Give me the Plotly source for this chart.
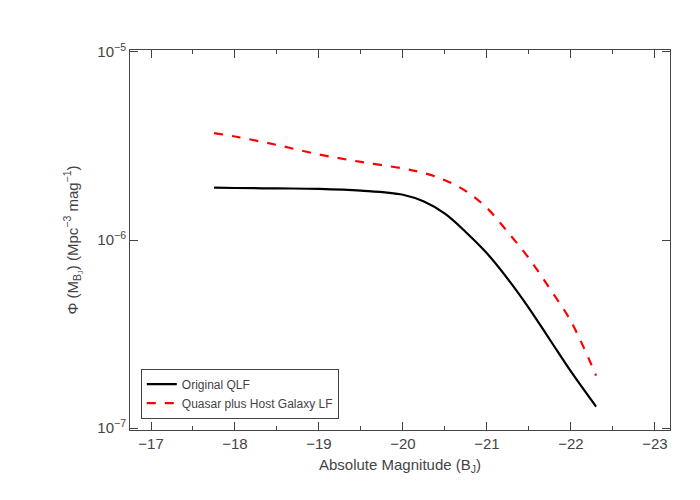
import plotly.graph_objects as go

# absolute magnitude (B_J) and luminosity function values
mag_qlf = [-17.75, -18.0, -18.5, -19.0, -19.5, -20.0, -20.25, -20.5, -20.75, -21.0, -21.25, -21.5, -21.75, -22.0, -22.3]
phi_qlf = [1.9e-6, 1.89e-6, 1.88e-6, 1.87e-6, 1.83e-6, 1.74e-6, 1.6e-6, 1.38e-6, 1.1e-6, 8.5e-7, 6.2e-7, 4.35e-7, 2.95e-7, 2.0e-7, 1.3e-7]

mag_host = [-17.75, -18.0, -18.5, -19.0, -19.5, -20.0, -20.25, -20.5, -20.75, -21.0, -21.25, -21.5, -21.75, -22.0, -22.3]
phi_host = [3.7e-6, 3.55e-6, 3.2e-6, 2.85e-6, 2.6e-6, 2.4e-6, 2.27e-6, 2.08e-6, 1.82e-6, 1.48e-6, 1.1e-6, 8.0e-7, 5.5e-7, 3.7e-7, 1.9e-7]

font = dict(family="Liberation Sans, Arial", size=15, color="#444")

fig = go.Figure()
fig.add_trace(go.Scatter(x=mag_qlf, y=phi_qlf, mode="lines", name="Original QLF",
                         line=dict(color="black", width=2.2, shape="spline")))
fig.add_trace(go.Scatter(x=mag_host, y=phi_host, mode="lines", name="Quasar plus Host Galaxy LF",
                         line=dict(color="red", width=2.2, dash="dash", shape="spline")))

axis_common = dict(showgrid=False, zeroline=False, showline=True, linecolor="#444",
                   mirror="ticks", ticks="inside", tickcolor="#444", tickfont=font)

fig.update_xaxes(range=[-16.75, -23.18], tickvals=[-17, -18, -19, -20, -21, -22, -23],
                 ticktext=["\u221217", "\u221218", "\u221219", "\u221220", "\u221221", "\u221222", "\u221223"],
                 ticklen=8, minor=dict(ticks="inside", ticklen=4, dtick=0.5, tickcolor="#444"),
                 title=dict(text="Absolute Magnitude (B<sub>J</sub>)", font=font, standoff=8), **axis_common)
fig.update_yaxes(type="log", range=[-7.01, -4.99], tickvals=[1e-7, 1e-6, 1e-5],
                 ticktext=["10<sup>\u22127</sup>", "10<sup>\u22126</sup>", "10<sup>\u22125</sup>"],
                 ticklen=8,
                 title=dict(text="\u03a6 (M<sub>B<sub>J</sub></sub>) (Mpc<sup>\u22123</sup> mag<sup>\u22121</sup>)", font=font),
                 **axis_common)

fig.update_layout(
    width=700, height=500, plot_bgcolor="white", paper_bgcolor="white",
    margin=dict(l=122, r=38, t=42, b=78, autoexpand=False),
    legend=dict(x=0.02, y=0.03, xanchor="left", yanchor="bottom", bordercolor="#444", borderwidth=1,
                bgcolor="white", font=dict(family="Liberation Sans, Arial", size=12, color="#444")),
)

fig.write_html("out.html")
